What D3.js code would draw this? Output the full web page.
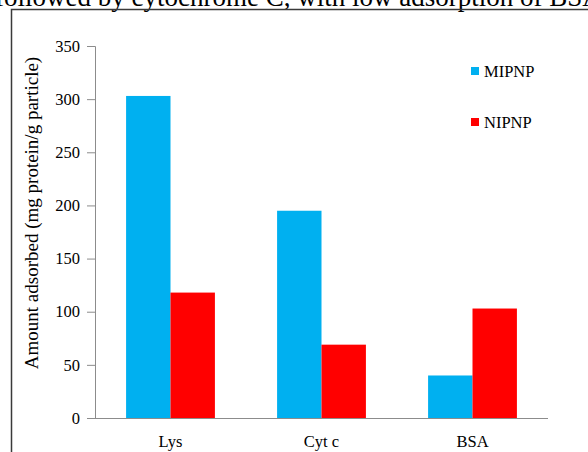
<!DOCTYPE html>
<html>
<head>
<meta charset="utf-8">
<script src="https://cdn.jsdelivr.net/npm/d3@7"></script>
<style>
  body { margin: 0; background: #fff; }
  svg { display: block; }
</style>
</head>
<body>
<div id="my_dataviz"></div>
<script>
// data
const proteins = ["Lys", "Cyt c", "BSA"];
const seriesNames = ["MIPNP", "NIPNP"];
const mipnp = [303, 195, 40];
const nipnp = [118, 69, 103];
const yTicks = [0, 50, 100, 150, 200, 250, 300, 350];
const seriesColors = ["#00b0f0", "#ff0000"];

const serif = "'Liberation Serif', 'Times New Roman', Times, serif";
const W = 588, H = 452;
const margin = { top: 46, left: 95 },
  width = 548 - margin.left,
  height = 418 - margin.top;

const svg = d3.select("#my_dataviz")
  .append("svg")
  .attr("width", W)
  .attr("height", H)
  .style("font-family", serif);

// caption line cut off at the top of the page, as in the source
svg.append("text")
  .attr("x", -5)
  .attr("y", 5.5)
  .style("font-family", serif)
  .style("font-size", "27px")
  .text("followed by cytochrome C, with low adsorption of BSA");

// frame around the chart (runs off the right and bottom edges)
svg.append("rect")
  .attr("x", 11.5)
  .attr("y", 9.5)
  .attr("width", 620)
  .attr("height", 500)
  .attr("fill", "none")
  .attr("stroke", "#3a3a3a")
  .attr("stroke-width", 1.5);

const g = svg.append("g")
  .attr("transform", `translate(${margin.left}, ${margin.top})`);

const rows = proteins.map((p, i) => ({ protein: p, MIPNP: mipnp[i], NIPNP: nipnp[i] }));

// x scales: one band per protein, two bars inside
const x0 = d3.scaleBand()
  .domain(proteins)
  .range([0, width])
  .padding(0);

const x1 = d3.scaleBand()
  .domain(seriesNames)
  .range([0, x0.bandwidth()])
  .paddingInner(0)
  .paddingOuter(0.7);

const y = d3.scaleLinear()
  .domain([0, 350])
  .range([height, 0]);

const color = d3.scaleOrdinal()
  .domain(seriesNames)
  .range(seriesColors);

// bars
g.selectAll(".group")
  .data(rows)
  .enter()
  .append("g")
  .attr("class", "group")
  .attr("transform", (d) => `translate(${x0(d.protein)}, 0)`)
  .selectAll("rect")
  .data((d) => seriesNames.map((s) => ({ key: s, value: d[s] })))
  .enter()
  .append("rect")
  .attr("x", (d) => x1(d.key))
  .attr("y", (d) => y(d.value))
  .attr("width", x1.bandwidth())
  .attr("height", (d) => height - y(d.value))
  .attr("fill", (d) => color(d.key));

// y axis
const yAxis = g.append("g")
  .call(d3.axisLeft(y).tickValues(yTicks).tickSize(8).tickPadding(7));
yAxis.attr("font-family", null).attr("font-size", null);
yAxis.select(".domain").attr("stroke", "#8c8c8c");
yAxis.selectAll(".tick line").attr("stroke", "#8c8c8c");
yAxis.selectAll(".tick text")
  .style("font-family", serif)
  .style("font-size", "16.5px");

// x axis
const xAxis = g.append("g")
  .attr("transform", `translate(0, ${height})`)
  .call(d3.axisBottom(x0).tickSize(0).tickPadding(17));
xAxis.attr("font-family", null).attr("font-size", null);
xAxis.select(".domain")
  .attr("stroke", "#8c8c8c")
  .attr("d", `M-6,0.5H${width}`);
xAxis.selectAll(".tick text")
  .style("font-family", serif)
  .style("font-size", "16.5px");

// y axis title
svg.append("text")
  .attr("transform", "translate(38, 213) rotate(-90)")
  .attr("text-anchor", "middle")
  .style("font-family", serif)
  .style("font-size", "19px")
  .text("Amount adsorbed (mg protein/g particle)");

// legend
const legend = svg.selectAll(".legend")
  .data(seriesNames)
  .enter()
  .append("g")
  .attr("class", "legend")
  .attr("transform", (d, i) => `translate(471, ${67 + i * 51})`);

legend.append("rect")
  .attr("width", 8)
  .attr("height", 8)
  .attr("fill", (d) => color(d));

legend.append("text")
  .attr("x", 13)
  .attr("y", 9.5)
  .style("font-family", serif)
  .style("font-size", "16.5px")
  .text((d) => d);
</script>
</body>
</html>
